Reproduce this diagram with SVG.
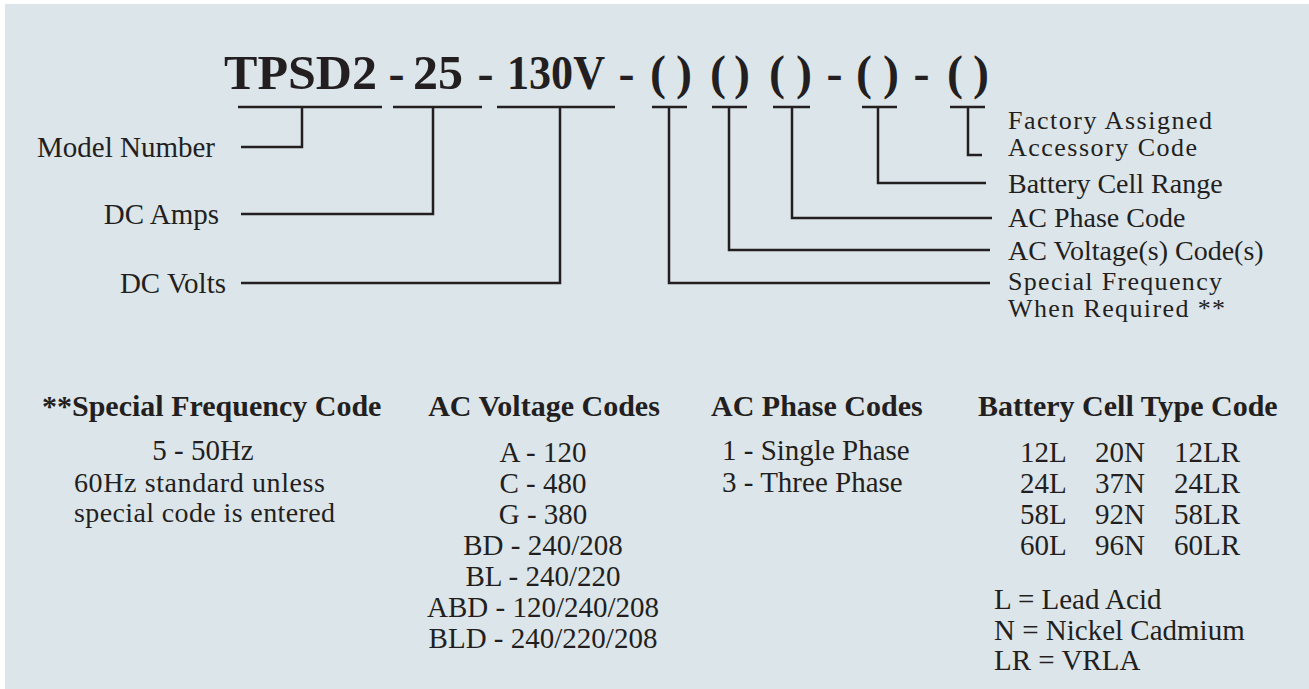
<svg xmlns="http://www.w3.org/2000/svg" width="1309" height="689" viewBox="0 0 1309 689">
<style>
.t{font-family:"Liberation Serif","Times New Roman",serif;fill:#231f20}
.title{font-size:48px;font-weight:bold}
.lbl{font-size:28px}
.lbl2{font-size:29px}
.lbl3{font-size:26px}
.hdr{font-size:30px;font-weight:bold}
.body{font-size:29px}
.body2{font-size:28px}
.ln{stroke:#231f20;stroke-width:2.5;fill:none}
</style>
<rect x="0" y="0" width="1309" height="689" fill="#ffffff"/>
<rect x="5" y="4" width="1304" height="685" fill="#dce5ea"/>

<g id="title" class="t title">
  <text x="224" y="89" textLength="153" lengthAdjust="spacingAndGlyphs">TPSD2</text>
  <text x="396.5" y="89" text-anchor="middle">-</text>
  <text x="413" y="89" textLength="50" lengthAdjust="spacingAndGlyphs">25</text>
  <text x="485.5" y="89" text-anchor="middle">-</text>
  <text x="507" y="89" textLength="98" lengthAdjust="spacingAndGlyphs">130V</text>
  <text x="626.5" y="89" text-anchor="middle">-</text>
  <text x="658" y="89" text-anchor="middle">(</text>
  <text x="684" y="89" text-anchor="middle">)</text>
  <text x="718" y="89" text-anchor="middle">(</text>
  <text x="742" y="89" text-anchor="middle">)</text>
  <text x="777" y="89" text-anchor="middle">(</text>
  <text x="804" y="89" text-anchor="middle">)</text>
  <text x="834.5" y="89" text-anchor="middle">-</text>
  <text x="864" y="89" text-anchor="middle">(</text>
  <text x="891" y="89" text-anchor="middle">)</text>
  <text x="921.5" y="89" text-anchor="middle">-</text>
  <text x="955" y="89" text-anchor="middle">(</text>
  <text x="981" y="89" text-anchor="middle">)</text>
</g>

<g id="connectors" class="ln">
  <path d="M238 107H382M302 107V147H241"/>
  <path d="M393 107H482M433 107V214H241"/>
  <path d="M497 107H615M560 107V283H241"/>
  <path d="M652 107H687M669 107V283H990"/>
  <path d="M712 107H747M729 107V250H990"/>
  <path d="M773 107H810M792 107V218H992"/>
  <path d="M862 107H897M878 107V183H986"/>
  <path d="M950 107H985M968 107V155H982"/>
</g>

<g id="label-model-number" class="t lbl2"><text x="215" y="157" text-anchor="end">Model Number</text></g>
<g id="label-dc-amps" class="t lbl2"><text x="219" y="224" text-anchor="end">DC Amps</text></g>
<g id="label-dc-volts" class="t lbl2"><text x="226" y="293" text-anchor="end">DC Volts</text></g>

<g id="label-factory" class="t lbl3"><text x="1008" y="129" textLength="204">Factory Assigned</text><text x="1008" y="156" textLength="189">Accessory Code</text></g>
<g id="label-battery-range" class="t lbl"><text x="1008" y="193">Battery Cell Range</text></g>
<g id="label-ac-phase" class="t lbl"><text x="1008" y="227">AC Phase Code</text></g>
<g id="label-ac-voltage" class="t lbl"><text x="1008" y="260">AC Voltage(s) Code(s)</text></g>
<g id="label-special-freq" class="t lbl3"><text x="1008" y="290" textLength="214">Special Frequency</text><text x="1008" y="317" textLength="217">When Required **</text></g>

<g id="table-special-frequency" class="t">
  <text class="hdr" x="42" y="416">**Special Frequency Code</text>
  <text class="body" x="203" y="460" text-anchor="middle">5 - 50Hz</text>
  <text class="body2" x="74" y="492" textLength="251">60Hz standard unless</text>
  <text class="body2" x="74" y="522" textLength="261">special code is entered</text>
</g>

<g id="table-ac-voltage" class="t" text-anchor="middle">
  <text class="hdr" x="544" y="416">AC Voltage Codes</text>
  <text class="body" x="543" y="462">A - 120</text>
  <text class="body" x="543" y="493">C - 480</text>
  <text class="body" x="543" y="524">G - 380</text>
  <text class="body" x="543" y="555">BD - 240/208</text>
  <text class="body" x="543" y="586">BL - 240/220</text>
  <text class="body" x="543" y="617">ABD - 120/240/208</text>
  <text class="body" x="543" y="648">BLD - 240/220/208</text>
</g>

<g id="table-ac-phase" class="t">
  <text class="hdr" x="711" y="416">AC Phase Codes</text>
  <text class="body" x="722" y="460">1 - Single Phase</text>
  <text class="body" x="722" y="492">3 - Three Phase</text>
</g>

<g id="table-battery-cell" class="t">
  <text class="hdr" x="978" y="416">Battery Cell Type Code</text>
  <g class="body">
    <text x="1020" y="462">12L</text><text x="1095" y="462">20N</text><text x="1174" y="462">12LR</text>
    <text x="1020" y="493">24L</text><text x="1095" y="493">37N</text><text x="1174" y="493">24LR</text>
    <text x="1020" y="524">58L</text><text x="1095" y="524">92N</text><text x="1174" y="524">58LR</text>
    <text x="1020" y="555">60L</text><text x="1095" y="555">96N</text><text x="1174" y="555">60LR</text>
    <text x="994" y="609">L = Lead Acid</text>
    <text x="994" y="640">N = Nickel Cadmium</text>
    <text x="994" y="670">LR = VRLA</text>
  </g>
</g>
</svg>
